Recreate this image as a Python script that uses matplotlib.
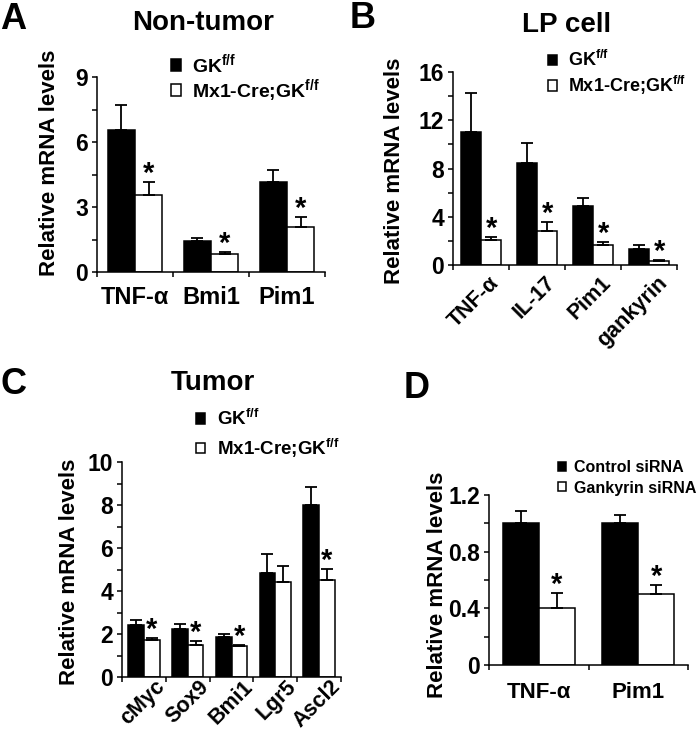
import numpy as np
import matplotlib
matplotlib.use("Agg")
import matplotlib.pyplot as plt
import matplotlib.ticker as mticker
from matplotlib.transforms import ScaledTranslation

plt.rcParams["font.family"] = ["Liberation Sans", "DejaVu Sans"]
plt.rcParams["font.weight"] = "bold"
plt.rcParams["axes.labelweight"] = "bold"
plt.rcParams["mathtext.fontset"] = "custom"
plt.rcParams["mathtext.rm"] = "Liberation Sans:bold"
plt.rcParams["mathtext.default"] = "rm"

# A: non-tumor
a_genes = ["TNF-α", "Bmi1", "Pim1"]
a_ctrl = [6.55, 1.44, 4.15]
a_ctrl_err = [1.15, 0.12, 0.57]
a_ko = [3.55, 0.83, 2.1]
a_ko_err = [0.6, 0.08, 0.44]
a_star = [True, True, True]

# B: LP cell
b_genes = ["TNF-α", "IL-17", "Pim1", "gankyrin"]
b_ctrl = [11.05, 8.45, 4.85, 1.35]
b_ctrl_err = [3.2, 1.7, 0.7, 0.33]
b_ko = [2.05, 2.82, 1.64, 0.36]
b_ko_err = [0.24, 0.74, 0.26, 0.08]
b_star = [True, True, True, True]

# C: tumor
c_genes = ["cMyc", "Sox9", "Bmi1", "Lgr5", "Ascl2"]
c_ctrl = [2.43, 2.22, 1.84, 4.84, 7.99]
c_ctrl_err = [0.2, 0.23, 0.14, 0.86, 0.85]
c_ko = [1.72, 1.51, 1.42, 4.43, 4.51]
c_ko_err = [0.08, 0.16, 0.05, 0.72, 0.5]
c_star = [True, True, True, False, True]

# D: siRNA
d_genes = ["TNF-α", "Pim1"]
d_ctrl = [1.0, 1.0]
d_ctrl_err = [0.09, 0.06]
d_ko = [0.40, 0.50]
d_ko_err = [0.11, 0.065]
d_star = [True, True]

mouse_labels = ["GK$^{f/f}$", "Mx1-Cre;GK$^{f/f}$"]
sirna_labels = ["Control siRNA", "Gankyrin siRNA"]

W, H = 700, 752
fig = plt.figure(figsize=(W / 100, H / 100), dpi=100)


def rect(left, top, right, bottom):
    return [left / W, 1 - bottom / H, (right - left) / W, (bottom - top) / H]


def fpos(x, y):
    return x / W, 1 - y / H


def draw_panel(ax, genes, ctrl, ctrl_err, ko, ko_err, stars, ymax, ystep,
               tick_size, label_size):
    x = np.arange(len(genes))
    w = 0.36
    ekw = dict(elinewidth=1.3, capthick=1.3, ecolor="black")
    b1 = ax.bar(x - w / 2, ctrl, w, yerr=[np.zeros(len(x)), ctrl_err],
                color="black", edgecolor="black", linewidth=1.1,
                capsize=4, error_kw=ekw)
    b2 = ax.bar(x + w / 2, ko, w, yerr=[np.zeros(len(x)), ko_err],
                color="white", edgecolor="black", linewidth=1.1,
                capsize=4, error_kw=ekw)
    for xi, v, e, s in zip(x, ko, ko_err, stars):
        if s:
            ax.annotate("*", (xi + w / 2, v + e), xytext=(0, 0),
                        textcoords="offset points", ha="center",
                        va="baseline", fontsize=21)

    ax.set_xlim(-0.5, len(genes) - 0.5)
    ax.set_ylim(0, ymax)
    ax.yaxis.set_major_locator(mticker.MultipleLocator(ystep))
    ax.yaxis.set_minor_locator(mticker.MultipleLocator(ystep / 2))
    ax.yaxis.set_major_formatter(mticker.FuncFormatter(lambda v, p: f"{v:g}"))
    ax.set_xticks(np.arange(len(genes) + 1) - 0.5)
    ax.set_xticklabels([])
    ax.set_xticks(x, genes, minor=True)

    for side in ["top", "right"]:
        ax.spines[side].set_visible(False)
    for side in ["left", "bottom"]:
        ax.spines[side].set_linewidth(1.1)
    ax.tick_params(axis="both", which="both", direction="out", length=3.5,
                   width=1.1)
    ax.tick_params(axis="y", which="major", labelsize=tick_size, pad=3)
    ax.tick_params(axis="x", which="minor", length=0, labelsize=label_size)
    ax.set_ylabel("Relative mRNA levels", fontsize=16, ha="center",
                  va="center")
    return b1, b2


def add_legend(ax, handles, labels, x, y, size, spacing, textpad=0.6):
    ax.legend(handles, labels, loc="upper left",
              bbox_to_anchor=fpos(x, y), bbox_transform=fig.transFigure,
              frameon=False, fontsize=size, handlelength=0.5,
              handleheight=0.5, handletextpad=textpad, labelspacing=spacing,
              borderpad=0, borderaxespad=0)


def rotate_labels(ax, dx, dy):
    for lab in ax.get_xticklabels(minor=True):
        lab.set_rotation(45)
        lab.set_rotation_mode("anchor")
        lab.set_ha("right")
        lab.set_va("center")
        lab.set_transform(lab.get_transform()
                          + ScaledTranslation(dx, dy, fig.dpi_scale_trans))


# 面板 A
ax_a = fig.add_axes(rect(97, 77, 325, 272))
h = draw_panel(ax_a, a_genes, a_ctrl, a_ctrl_err, a_ko, a_ko_err, a_star,
               9, 3, 16.5, 17)
ax_a.tick_params(axis="x", which="minor", pad=10)
ax_a.yaxis.set_label_coords(-0.21, 0.56)
add_legend(ax_a, h, mouse_labels, 171, 52, 14, 0.05)

# 面板 B
ax_b = fig.add_axes(rect(453, 72, 677, 265))
h = draw_panel(ax_b, b_genes, b_ctrl, b_ctrl_err, b_ko, b_ko_err, b_star,
               16, 4, 16.5, 15.5)
ax_b.yaxis.set_label_coords(-0.26, 0.49)
rotate_labels(ax_b, 0.15, -0.1)
add_legend(ax_b, h, mouse_labels, 548, 50, 13, 0.2)

# 面板 C
ax_c = fig.add_axes(rect(122, 462, 341, 677))
h = draw_panel(ax_c, c_genes, c_ctrl, c_ctrl_err, c_ko, c_ko_err, c_star,
               10, 2, 16.5, 15.5)
ax_c.yaxis.set_label_coords(-0.24, 0.49)
rotate_labels(ax_c, 0.18, -0.02)
add_legend(ax_c, h, mouse_labels, 196, 409, 13.5, 0.4)

# 面板 D
ax_d = fig.add_axes(rect(489, 495, 688, 665))
h = draw_panel(ax_d, d_genes, d_ctrl, d_ctrl_err, d_ko, d_ko_err, d_star,
               1.2, 0.4, 16.5, 16)
ax_d.tick_params(axis="x", which="minor", pad=12)
ax_d.yaxis.set_label_coords(-0.26, 0.47)
add_legend(ax_d, h, sirna_labels, 558, 460, 11.5, 0.35, textpad=0.5)

# 标题和字母
fig.text(*fpos(203, 30), "Non-tumor", ha="center", va="baseline", fontsize=20)
fig.text(*fpos(567, 32), "LP cell", ha="center", va="baseline", fontsize=20)
fig.text(*fpos(213, 390), "Tumor", ha="center", va="baseline", fontsize=20)
fig.text(*fpos(0, 29), "A", ha="left", va="baseline", fontsize=26)
fig.text(*fpos(350, 28), "B", ha="left", va="baseline", fontsize=26)
fig.text(*fpos(0, 394), "C", ha="left", va="baseline", fontsize=26)
fig.text(*fpos(404, 398), "D", ha="left", va="baseline", fontsize=26)

fig.savefig("out.png", dpi=100)
